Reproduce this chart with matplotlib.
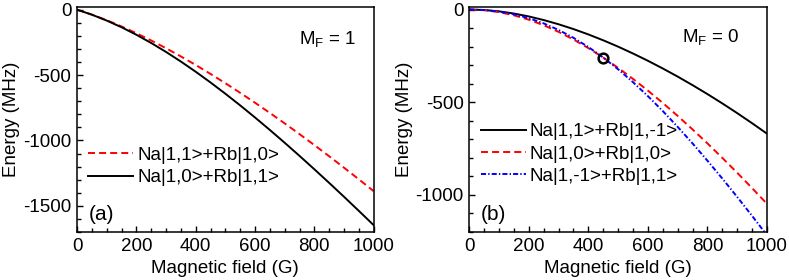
import matplotlib
matplotlib.use("Agg")
import matplotlib.pyplot as plt
from matplotlib.ticker import MultipleLocator

plt.rcParams['font.family'] = ['Liberation Sans', 'DejaVu Sans']
plt.rcParams['axes.unicode_minus'] = False

# Magnetic field (G)
field = [0, 50, 100, 150, 200, 250, 300, 350, 400, 450, 500,
         550, 600, 650, 700, 750, 800, 850, 900, 950, 1000]

# Panel (a), M_F = 1
a_na11_rb10 = [0, -37.8, -80.6, -128.1, -179.9, -235.6, -294.8, -357.4, -422.9, -491.3, -562.3,
               -635.8, -711.5, -789.5, -869.5, -951.5, -1035.3, -1120.9, -1208.2, -1297.2, -1387.7]
a_na10_rb11 = [0, -38.3, -83.2, -134.4, -191.7, -254.7, -323.1, -396.5, -474.4, -556.5, -642.5,
               -731.8, -824.3, -919.6, -1017.6, -1117.8, -1220.2, -1324.5, -1430.6, -1538.4, -1647.7]

# Panel (b), M_F = 0
b_na11_rb1m1 = [0, -2.5, -9.9, -21.6, -37.3, -56.7, -79.5, -105.4, -134.3, -166.0, -200.3,
                -237.2, -276.4, -318.0, -361.8, -407.9, -456.1, -506.4, -558.8, -613.2, -669.6]
b_na10_rb10 = [0, -3.5, -13.9, -31.1, -54.8, -84.7, -120.5, -161.7, -208.1, -259.2, -314.7,
               -374.2, -437.4, -504.0, -573.8, -646.6, -722.1, -800.2, -880.6, -963.3, -1048.1]
b_na1m1_rb11 = [0, -2.7, -11.1, -25.6, -46.8, -74.8, -110.1, -152.6, -202.3, -259.0, -322.3,
                -391.9, -467.2, -547.7, -632.9, -722.2, -815.3, -911.7, -1011.1, -1113.1, -1217.5]

# crossing marker
cross_x = [450]
cross_y = [-260]

labels_a = ["Na|1,1>+Rb|1,0>", "Na|1,0>+Rb|1,1>"]
labels_b = ["Na|1,1>+Rb|1,-1>", "Na|1,0>+Rb|1,0>", "Na|1,-1>+Rb|1,1>"]

FS = 13.5
LW = 1.4
dash = (0, (3.6, 2.1))
dashdot = (0, (2.6, 1.1, 0.7, 1.1))

fig = plt.figure(figsize=(7.89, 2.80), dpi=100)
axa = fig.add_axes([0.0976, 0.1714, 0.376, 0.8025])
axb = fig.add_axes([0.5948, 0.1714, 0.3773, 0.8025])

axa.plot(field, a_na11_rb10, color='#ff0000', lw=LW, linestyle=dash, label=labels_a[0])
axa.plot(field, a_na10_rb11, color='black', lw=LW, label=labels_a[1])
axa.set_ylim(-1700, 18)
axa.yaxis.set_major_locator(MultipleLocator(500))
axa.yaxis.set_minor_locator(MultipleLocator(100))

axb.plot(field, b_na11_rb1m1, color='black', lw=LW, label=labels_b[0])
axb.plot(field, b_na10_rb10, color='#ff0000', lw=LW, linestyle=dash, label=labels_b[1])
axb.plot(field, b_na1m1_rb11, color='#0000ff', lw=LW, linestyle=dashdot, label=labels_b[2])
axb.plot(cross_x, cross_y, 'o', ms=7, mfc='none', mec='black', mew=1.8)
axb.set_ylim(-1200, 12)
axb.yaxis.set_major_locator(MultipleLocator(500))
axb.yaxis.set_minor_locator(MultipleLocator(100))

for ax in (axa, axb):
    ax.set_xlim(0, 1000)
    ax.xaxis.set_major_locator(MultipleLocator(200))
    ax.xaxis.set_minor_locator(MultipleLocator(50))
    ax.tick_params(which='both', direction='in', top=False, right=False,
                   labelsize=FS, pad=4)
    ax.tick_params(which='major', length=4.5, width=1)
    ax.tick_params(which='minor', length=3, width=1)
    for s in ax.spines.values():
        s.set_linewidth(1.1)
    ax.set_xlabel("Magnetic field (G)", fontsize=FS, labelpad=4)
    ax.set_ylabel("Energy (MHz)", fontsize=FS, labelpad=2)

axa.text(0.845, 0.855, r"M$_\mathregular{F}$ = 1", transform=axa.transAxes,
         fontsize=FS, ha='center', va='center')
axb.text(0.81, 0.865, r"M$_\mathregular{F}$ = 0", transform=axb.transAxes,
         fontsize=FS, ha='center', va='center')
axa.text(0.04, 0.08, "(a)", transform=axa.transAxes, fontsize=15, ha='left', va='center')
axb.text(0.04, 0.08, "(b)", transform=axb.transAxes, fontsize=15, ha='left', va='center')

axa.legend(loc='upper left', bbox_to_anchor=(0.0, 0.43), frameon=False, fontsize=FS,
           handlelength=2.4, handletextpad=0.2, labelspacing=0.28, borderaxespad=0.2)
axb.legend(loc='upper left', bbox_to_anchor=(0.0, 0.535), frameon=False, fontsize=FS,
           handlelength=2.4, handletextpad=0.2, labelspacing=0.28, borderaxespad=0.2)

fig.savefig("out.png", dpi=100)
